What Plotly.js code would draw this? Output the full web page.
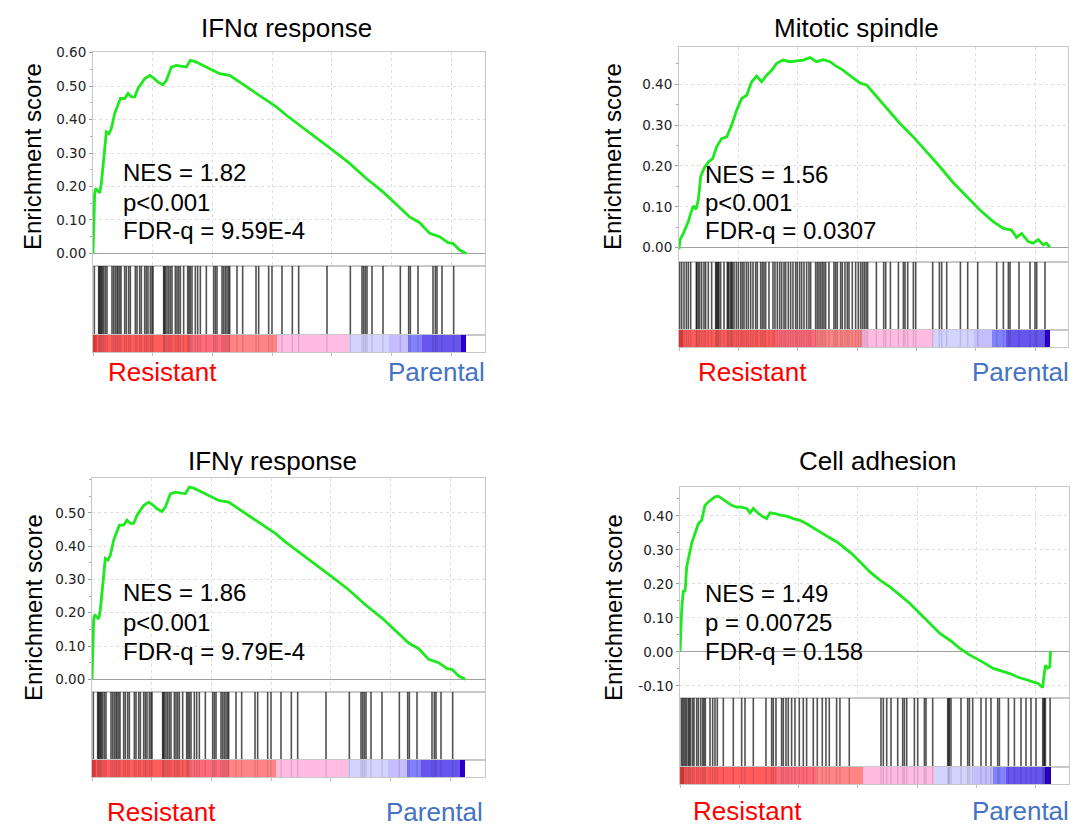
<!DOCTYPE html>
<html><head><meta charset="utf-8">
<script src="https://cdn.plot.ly/plotly-3.0.1.min.js"></script>
<style>html,body{margin:0;padding:0;background:#fff;} #chart{width:1081px;height:833px;}</style>
</head><body><div id="chart"></div>
<script>
// ---------- DATA ----------
// Running enrichment score: gene rank positions and ES values
const ifnaRank = [0,56,140,223,419,558,698,837,977,1116,1339,1535,1814,2093,2288,2651,2930,3209,3488,3767,4046,4325,4743,5078,5441,5859,6138,6557,6975,7394,7812,8147,8510,8928,9486,10044,10602,11439,12276,13392,14508,15345,16182,17298,18693,20088,21483,22878,24273,25668,26505,27342,28179,29016,29714,30132,30690,31248];
const ifnaES   = [0,0.07,0.18,0.194,0.187,0.181,0.209,0.259,0.318,0.363,0.358,0.373,0.418,0.448,0.463,0.463,0.478,0.468,0.468,0.493,0.507,0.522,0.532,0.524,0.512,0.504,0.517,0.557,0.562,0.559,0.557,0.577,0.574,0.567,0.557,0.545,0.537,0.532,0.512,0.483,0.458,0.438,0.413,0.383,0.348,0.308,0.269,0.224,0.184,0.139,0.109,0.092,0.060,0.050,0.032,0.030,0.010,0.0];
const ifnaHits = [112,474,530,614,698,781,893,1032,1172,1590,1730,1869,2009,2093,2232,2344,2651,2790,2985,3125,3543,3683,3906,4046,4325,4464,4604,4799,4938,5022,5915,5970,6054,6194,6333,6473,6612,6891,7031,7170,7310,7589,7924,8035,8147,8286,8565,8761,8984,9486,10100,10239,10379,10797,10937,11076,11216,11355,11439,12053,12527,13643,13866,14703,14982,15819,16684,17214,19586,21539,22515,22655,22794,22934,23352,24273,25724,26421,26561,27203,28458,28653,28793,29212,30188];
const ifnaStats = ['NES = 1.82','p&lt;0.001','FDR-q = 9.59E-4'];

const mitRank = [0,84,365,589,786,982,1207,1431,1627,1824,2104,2469,2834,3171,3592,4013,4433,4854,5275,5696,6117,6538,6959,7380,7801,8222,8783,9344,9905,10466,11027,11589,12150,12711,13132,13834,14535,15237,15798,16640,17482,18604,19726,20849,21971,23093,24216,25338,26460,27302,28003,28424,28845,29406,29827,30248,30669,30949,31230];
const mitES   = [-0.004,0.019,0.035,0.051,0.064,0.084,0.102,0.094,0.117,0.174,0.194,0.210,0.218,0.247,0.267,0.271,0.300,0.336,0.365,0.373,0.406,0.420,0.406,0.422,0.434,0.451,0.459,0.455,0.457,0.459,0.465,0.455,0.460,0.455,0.446,0.434,0.418,0.403,0.398,0.369,0.341,0.304,0.271,0.235,0.198,0.159,0.125,0.092,0.064,0.047,0.043,0.025,0.035,0.015,0.011,0.020,0.007,0.011,0.001];
const mitHits = [56,224,421,617,786,982,1459,1500,1627,1740,1908,2104,2245,2469,2750,3087,3150,3227,3300,3367,3508,3788,4069,4130,4209,4349,4420,4490,4630,4826,4995,5191,5331,5472,5668,5836,6033,6229,6454,6594,6875,7015,7155,7296,7576,7913,8081,8278,8474,8642,8839,8979,9204,9400,9597,9821,9961,10158,10326,10523,10747,10943,11084,11505,11645,11785,11926,12066,12206,12346,12627,13048,13188,13329,13609,13749,13974,14170,14311,14591,14872,15096,15293,15450,15600,15750,15880,16620,17236,17404,17800,18473,18894,19029,19256,19736,19930,21361,21925,22119,22540,23694,24308,25150,26750,27314,27735,27870,28628,29554,29975,30118,30817];
const mitStats = ['NES = 1.56','p&lt;0.001','FDR-q = 0.0307'];

// IFNγ panel reads identically to the IFNα panel in the reference
const ifngRank = ifnaRank;
const ifngES   = ifnaES;
const ifngHits = ifnaHits;
const ifngStats = ['NES = 1.86','p&lt;0.001','FDR-q = 9.79E-4'];

const adhRank = [0,56,140,281,421,562,787,983,1264,1545,1826,2107,2388,2668,2949,3230,3511,3933,4354,4775,5197,5618,5899,6180,6601,7022,7303,7584,8006,8427,8989,9551,10112,10674,11236,11798,12500,13202,13764,14466,15169,16011,16854,17697,18539,19382,20225,21068,21910,22753,23596,24298,25000,25703,26405,27107,27810,28512,29214,29776,30197,30562,30700,30800,31000,31180,31236];
const adhES   = [0,0.054,0.123,0.181,0.176,0.250,0.284,0.319,0.348,0.377,0.387,0.431,0.441,0.448,0.456,0.458,0.451,0.441,0.431,0.426,0.426,0.422,0.409,0.422,0.407,0.397,0.392,0.409,0.407,0.402,0.399,0.392,0.387,0.377,0.366,0.353,0.338,0.324,0.309,0.289,0.265,0.235,0.211,0.191,0.167,0.142,0.113,0.083,0.054,0.034,0.010,-0.007,-0.020,-0.034,-0.049,-0.056,-0.064,-0.075,-0.083,-0.088,-0.093,-0.105,-0.070,-0.040,-0.048,-0.044,0.003];
const adhHits = [112,225,337,449,562,702,787,899,1067,1180,1405,1545,1742,1910,2022,2135,2528,2753,2949,3146,3652,4494,5197,5478,6180,7247,7725,7865,8090,8567,8708,8933,9129,9410,9691,10056,10393,10674,11236,11573,11994,12303,12584,13202,13483,14270,16944,17141,17425,17787,18352,18773,18917,19111,19760,20038,20603,20738,21303,22567,22650,22711,22845,23688,24253,24397,24675,25374,25796,26217,26782,26926,27684,28190,28746,29168,29589,30011,30576,30680,30719,30804,31200];
const adhStats = ['NES = 1.49','p = 0.00725','FDR-q = 0.158'];

// Ranked-list colour bar (same ranked list for all panels)
const bandStart = [0,300,8100,11500,15400,21400,24800,26350,27500,30800];
const bandEnd   = [300,8100,11500,15400,21400,24800,26350,27500,30800,31240];
const bandColor = ['#e63c3c','#ff5c5c','#ff6a7a','#ff8585','#ffbbe2','#d3d3ff','#c5bdfd','#8282ff','#6656ee','#2a00c8'];

const titles = ['IFNα response','Mitotic spindle','IFNγ response','Cell adhesion'];
const yTickVals = [[0,0.1,0.2,0.3,0.4,0.5,0.6],[0,0.1,0.2,0.3,0.4],[0,0.1,0.2,0.3,0.4,0.5],[-0.1,0,0.1,0.2,0.3,0.4]];

// ---------- LAYOUT GEOMETRY (pixels) ----------
const W=1081, H=833;
const geo = [
 {x0:93, x1:485, top:52, esBot:265.5, bcBot:335, cbBot:352, xmax:32810, yr:[-0.036,0.602], tX:286, tY:28, sX:121, sY:[173,202,230], lX:33, lY:157, rX:106, pX:487, labY:372},
 {x0:679,x1:1068,top:47, esBot:262, bcBot:330, cbBot:347, xmax:32754, yr:[-0.035,0.491], tX:856, tY:28, sX:703, sY:[174,202,230], lX:613, lY:157, rX:696, pX:1071, labY:372},
 {x0:92, x1:485, top:478,esBot:692, bcBot:760, cbBot:777, xmax:32894, yr:[-0.038,0.6045],tX:272, tY:461, sX:121, sY:[592,622,651], lX:33, lY:608, rX:105, pX:485, labY:812},
 {x0:680,x1:1069,top:487,esBot:698, bcBot:767, cbBot:784, xmax:32793, yr:[-0.136,0.485], tX:878, tY:461, sX:703, sY:[593,622,651], lX:613, lY:608, rX:691, pX:1071, labY:811}
];
const series = [
 {rank:ifnaRank, es:ifnaES, hits:ifnaHits, stats:ifnaStats},
 {rank:mitRank,  es:mitES,  hits:mitHits,  stats:mitStats},
 {rank:ifngRank, es:ifngES, hits:ifngHits, stats:ifngStats},
 {rank:adhRank,  es:adhES,  hits:adhHits,  stats:adhStats}
];

const FONT = 'Liberation Sans, Arial, Helvetica, sans-serif';
const BORDER = '#c8c8c8';
const GRID = '#dedede';
const px2x = p => p / W;
const px2y = p => 1 - p / H;

const traces = [];
const layout = {
  width: W, height: H, margin: {l:0, r:0, t:0, b:0},
  paper_bgcolor: '#ffffff', plot_bgcolor: '#ffffff',
  showlegend: false, bargap: 0, barmode: 'overlay',
  font: {family: FONT, color: '#000'},
  annotations: []
};

function axName(n){ return n===1 ? '' : String(n); }

geo.forEach((g, i) => {
  const s = series[i];
  const nE = 3*i+1, nB = 3*i+2, nC = 3*i+3;
  const xd = [px2x(g.x0), px2x(g.x1)];

  const hx = [], hy = [];
  s.hits.forEach(h => { hx.push(h, h, null); hy.push(0, 1, null); });

  // ES curve
  traces.push({type:'scatter', mode:'lines', x:s.rank, y:s.es,
    xaxis:'x'+axName(nE), yaxis:'y'+axName(nE),
    line:{color:'#1ee81e', width:2.8}, hoverinfo:'skip'});
  // barcode
  traces.push({type:'scatter', mode:'lines', x:hx, y:hy,
    xaxis:'x'+axName(nB), yaxis:'y'+axName(nB),
    line:{color:'rgba(15,15,15,0.72)', width:1.6}, hoverinfo:'skip'});
  // colour bar
  traces.push({type:'bar', orientation:'h',
    base: bandStart, x: bandEnd.map((e,k)=>e-bandStart[k]), y: bandStart.map(()=>0),
    width: bandStart.map(()=>1),
    marker:{color:bandColor, line:{width:0}},
    xaxis:'x'+axName(nC), yaxis:'y'+axName(nC), hoverinfo:'skip'});
  traces.push({type:'scatter', mode:'lines', x:hx, y:hy.map(v=>v===null?null:(v-0.5)),
    xaxis:'x'+axName(nC), yaxis:'y'+axName(nC),
    line:{color:'rgba(0,0,0,0.12)', width:1.4}, hoverinfo:'skip'});

  const baseX = {domain:xd, range:[0,g.xmax], showline:true, mirror:true, linecolor:BORDER, linewidth:1,
    zeroline:false, showticklabels:false, fixedrange:true};
  layout['xaxis'+axName(nE)] = Object.assign({}, baseX, {anchor:'y'+axName(nE),
    showgrid:true, gridcolor:GRID, griddash:'3px,3px', gridwidth:1, tick0:0, dtick:5000, ticks:''});
  layout['yaxis'+axName(nE)] = {anchor:'x'+axName(nE), domain:[px2y(g.esBot), px2y(g.top)], range:g.yr,
    tickvals:yTickVals[i], ticktext:yTickVals[i].map(v=>v.toFixed(2)),
    tickfont:{family:'DejaVu Sans, sans-serif', size:13.5, color:'#222'},
    ticks:'outside', ticklen:3, tickcolor:'#999', tickwidth:1,
    minor:{dtick:0.05, tick0:0, ticks:'outside', ticklen:2, tickcolor:'#aaa', showgrid:false},
    showgrid:true, gridcolor:GRID, griddash:'3px,3px', gridwidth:1,
    zeroline:true, zerolinecolor:'#a0a0a0', zerolinewidth:1,
    showline:true, mirror:true, linecolor:BORDER, linewidth:1, fixedrange:true};

  layout['xaxis'+axName(nB)] = Object.assign({}, baseX, {anchor:'y'+axName(nB), showgrid:false, ticks:''});
  layout['yaxis'+axName(nB)] = {anchor:'x'+axName(nB), domain:[px2y(g.bcBot), px2y(g.esBot)], range:[0,1],
    showgrid:false, zeroline:false, showticklabels:false, ticks:'', showline:true, mirror:true, linecolor:BORDER, fixedrange:true};

  layout['xaxis'+axName(nC)] = Object.assign({}, baseX, {anchor:'y'+axName(nC), showgrid:false,
    ticks:'outside', ticklen:3, tickcolor:'#bbb', tick0:0, dtick:5000});
  layout['yaxis'+axName(nC)] = {anchor:'x'+axName(nC), domain:[px2y(g.cbBot), px2y(g.bcBot)], range:[-0.5,0.5],
    showgrid:false, zeroline:false, showticklabels:false, ticks:'', showline:true, mirror:true, linecolor:BORDER, fixedrange:true};

  // text
  const A = layout.annotations;
  A.push({xref:'paper', yref:'paper', x:px2x(g.tX), y:px2y(g.tY), xanchor:'center', yanchor:'middle',
    text:titles[i], showarrow:false, font:{family:FONT, size:26, color:'#000'}});
  A.push({xref:'paper', yref:'paper', x:px2x(g.lX), y:px2y(g.lY), xanchor:'center', yanchor:'middle',
    text:'Enrichment score', textangle:-90, showarrow:false, font:{family:FONT, size:24, color:'#000'}});
  s.stats.forEach((t,k) => {
    A.push({xref:'paper', yref:'paper', x:px2x(g.sX), y:px2y(g.sY[k]), xanchor:'left', yanchor:'middle',
      text:t, showarrow:false, font:{family:FONT, size:24, color:'#000'}});
  });
  A.push({xref:'paper', yref:'paper', x:px2x(g.rX), y:px2y(g.labY), xanchor:'left', yanchor:'middle',
    text:'Resistant', showarrow:false, font:{family:FONT, size:26, color:'#ff0000'}});
  A.push({xref:'paper', yref:'paper', x:px2x(g.pX), y:px2y(g.labY), xanchor:'right', yanchor:'middle',
    text:'Parental', showarrow:false, font:{family:FONT, size:26, color:'#4472c4'}});
});

Plotly.newPlot('chart', traces, layout, {staticPlot:true, displayModeBar:false});
</script>
</body></html>
